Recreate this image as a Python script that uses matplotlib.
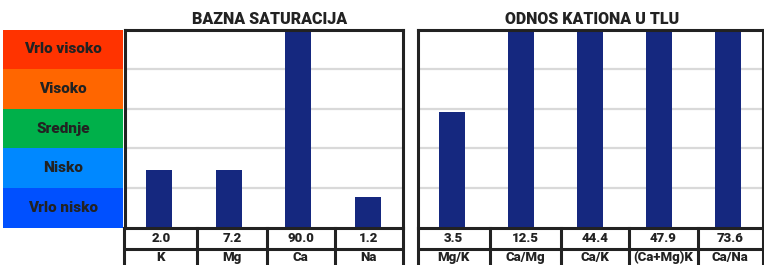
import matplotlib
matplotlib.use("Agg")
import matplotlib.pyplot as plt

# ---- data ----
levels = ["Vrlo nisko", "Nisko", "Srednje", "Visoko", "Vrlo visoko"]
level_colors = ["#0050FF", "#0088FF", "#00B04A", "#FF6600", "#FF3300"]

bs_title = "BAZNA SATURACIJA"
bs_labels = ["K", "Mg", "Ca", "Na"]
bs_values = ["2.0", "7.2", "90.0", "1.2"]
bs_heights = [1.45, 1.45, 5.0, 0.77]

ok_title = "ODNOS KATIONA U TLU"
ok_labels = ["Mg/K", "Ca/Mg", "Ca/K", "(Ca+Mg)K", "Ca/Na"]
ok_values = ["3.5", "12.5", "44.4", "47.9", "73.6"]
ok_heights = [2.92, 5.0, 5.0, 5.0, 5.0]

# ---- layout (pixels) ----
W, H = 764, 265
BS_CELLS = [124.5, 197, 267, 334.5, 402.5]
OK_CELLS = [417.5, 489.5, 560.5, 629, 698, 762.5]
BS_TITLE_X = 270
OK_TITLE_X = 592

BAR = "#15287F"
FRAME = "#222222"
GRID = "#D9D9D9"
TXT = "#222222"
FONT = ["Roboto", "DejaVu Sans"]
WEIGHT = "black"
LW = 2.2

fig = plt.figure(figsize=(W / 100, H / 100), dpi=100)


def px_axes(x0, y0, x1, y1):
    return fig.add_axes([x0 / W, 1 - y1 / H, (x1 - x0) / W, (y1 - y0) / H])


# band legend
bax = px_axes(3, 29.5, 123, 227.5)
for i, (lab, col) in enumerate(zip(levels, level_colors)):
    bax.axhspan(i, i + 1, color=col, lw=0)
    bax.text(0.5, i + 0.5, lab, ha="center", va="center", fontsize=11,
             fontweight=WEIGHT, color=TXT, family=FONT)
bax.set_xlim(0, 1)
bax.set_ylim(0, 5)
bax.axis("off")


def panel(cells, title, title_x, labels, values, heights):
    x0, x1 = cells[0], cells[-1]
    ax = px_axes(x0, 29.5, x1, 227.5)
    n = len(labels)
    xs = list(range(n))
    for g in range(1, 5):
        ax.axhline(g, color=GRID, lw=1.6, zorder=0)
    ax.bar(xs, heights, width=0.37, color=BAR, zorder=2)
    ax.set_xlim(-0.5, n - 0.5)
    ax.set_ylim(0, 5)
    ax.set_xticks([])
    ax.set_yticks([])
    for s in ax.spines.values():
        s.set_linewidth(LW)
        s.set_color(FRAME)
        s.set_zorder(5)
    fig.text(title_x / W, 1 - 18.5 / H, title, ha="center", va="center",
             fontsize=11.5, fontweight=WEIGHT, color=TXT, family=FONT)

    # table below
    tax = px_axes(x0, 227.5, x1, 295)
    tax.set_xlim(x0, x1)
    tax.set_ylim(67.5, 0)  # pixel units from top of table
    tax.axis("off")
    tax.axhline(21, color=FRAME, lw=LW)
    for b in cells:
        tax.axvline(b, color=FRAME, lw=LW, clip_on=False)
    for i in range(n):
        cx = (cells[i] + cells[i + 1]) / 2
        tax.text(cx, 10.5, values[i], ha="center", va="center",
                 fontsize=9.5, fontweight=WEIGHT, color=TXT, family=FONT)
        tax.text(cx, 30, labels[i], ha="center", va="center",
                 fontsize=9.5, fontweight=WEIGHT, color=TXT, family=FONT)


panel(BS_CELLS, bs_title, BS_TITLE_X, bs_labels, bs_values, bs_heights)
panel(OK_CELLS, ok_title, OK_TITLE_X, ok_labels, ok_values, ok_heights)

fig.savefig("out.png", dpi=100)
